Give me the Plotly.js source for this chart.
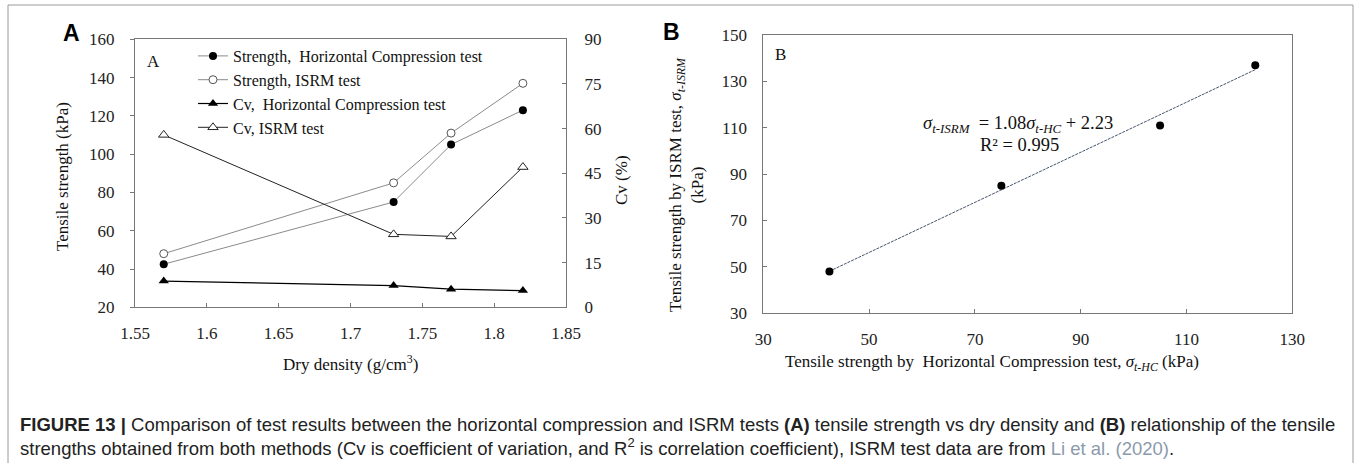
<!DOCTYPE html>
<html>
<head>
<meta charset="utf-8">
<script src="https://cdn.plot.ly/plotly-3.0.1.min.js"></script>
<style>
html,body{margin:0;padding:0;background:#fff;}
#chart{width:1354px;height:463px;}
</style>
</head>
<body>
<div id="chart"></div>
<script>
// ---- data ----
const density = [1.57, 1.73, 1.77, 1.82];
const strengthHC = [42.5, 75, 105, 123];
const strengthISRM = [48, 85, 111, 137];
const cvHC = [8.8, 7.3, 6.1, 5.6];
const cvISRM = [57.9, 24.5, 23.8, 47.1];
const fitSlope = 1.08;
const fitIntercept = 2.23;
const densityTicks = [1.55, 1.6, 1.65, 1.7, 1.75, 1.8, 1.85];
const densityTickLabels = ['1.55', '1.6', '1.65', '1.7', '1.75', '1.8', '1.85'];
const legendNames = [
  'Strength,\u00a0 Horizontal Compression test',
  'Strength, ISRM test',
  'Cv,\u00a0 Horizontal Compression test',
  'Cv, ISRM test'
];

// ---- helpers ----
const W = 1354, H = 463;
const px = x => x / W;
const py = y => 1 - y / H;
const serif = 'Liberation Serif, Times New Roman, serif';
const sans = 'Liberation Sans, Arial, sans-serif';

const fitX = [Math.min(...strengthHC), Math.max(...strengthHC)];
const fitY = fitX.map(v => fitSlope * v + fitIntercept);

const traces = [
  {x: density, y: strengthHC, xaxis: 'x', yaxis: 'y', mode: 'lines+markers', name: legendNames[0],
   line: {color: '#8a8a8a', width: 1}, marker: {symbol: 'circle', size: 8, color: '#000'}},
  {x: density, y: strengthISRM, xaxis: 'x', yaxis: 'y', mode: 'lines+markers', name: legendNames[1],
   line: {color: '#8a8a8a', width: 1}, marker: {symbol: 'circle', size: 8, color: '#fff', line: {color: '#555', width: 1}}},
  {x: density, y: cvHC, xaxis: 'x', yaxis: 'y2', mode: 'lines+markers', name: legendNames[2],
   line: {color: '#000', width: 1.2}, marker: {symbol: 'triangle-up', size: 9, color: '#000'}},
  {x: density, y: cvISRM, xaxis: 'x', yaxis: 'y2', mode: 'lines+markers', name: legendNames[3],
   line: {color: '#222', width: 1}, marker: {symbol: 'triangle-up', size: 9, color: '#fff', line: {color: '#222', width: 1}}},
  {x: fitX, y: fitY, xaxis: 'x2', yaxis: 'y3', mode: 'lines', showlegend: false,
   line: {color: '#44546a', width: 1, dash: '3px,1px'}},
  {x: strengthHC, y: strengthISRM, xaxis: 'x2', yaxis: 'y3', mode: 'markers', showlegend: false,
   marker: {symbol: 'circle', size: 8, color: '#000'}}
];

function axis(extra) {
  return Object.assign({
    showgrid: false, zeroline: false, showline: true, linecolor: '#777', linewidth: 1,
    tickcolor: '#777', ticklen: 4, tickwidth: 1, mirror: true,
    tickfont: {family: serif, size: 17, color: '#222'}
  }, extra);
}

const layout = {
  width: W, height: H,
  margin: {l: 0, r: 0, t: 0, b: 0},
  font: {family: serif, size: 17, color: '#222'},
  paper_bgcolor: '#fff', plot_bgcolor: 'rgba(0,0,0,0)',
  showlegend: true,
  legend: {x: px(193), y: py(39), xanchor: 'left', yanchor: 'top', bgcolor: 'rgba(0,0,0,0)',
    font: {family: serif, size: 16, color: '#111'}, borderwidth: 0, tracegroupgap: 0},
  xaxis: axis({domain: [px(135), px(566)], range: [1.55, 1.85], anchor: 'y',
    tickmode: 'array', tickvals: densityTicks, ticktext: densityTickLabels, ticks: 'inside', ticklabelstandoff: 10}),
  yaxis: axis({domain: [py(307.3), py(39.3)], range: [20, 160], tick0: 20, dtick: 20, anchor: 'x',
    ticks: 'outside', ticklabelstandoff: 12}),
  yaxis2: axis({overlaying: 'y', side: 'right', range: [0, 90], tick0: 0, dtick: 15, anchor: 'x',
    ticks: 'inside', mirror: false, ticklabelstandoff: 14}),
  xaxis2: axis({domain: [px(763.3), px(1292.3)], range: [30, 130], tick0: 30, dtick: 20, anchor: 'y3',
    ticks: 'inside', ticklabelstandoff: 10}),
  yaxis3: axis({domain: [py(313.3), py(35)], range: [30, 150], tick0: 30, dtick: 20, anchor: 'x2',
    ticks: 'inside', ticklabelstandoff: 12}),
  shapes: [
    {type: 'rect', xref: 'paper', yref: 'paper', x0: px(8), x1: px(1353), y0: -0.05, y1: py(5),
     line: {color: '#9a9a9a', width: 1}, fillcolor: 'rgba(0,0,0,0)'}
  ],
  annotations: [
    {text: '<b>A</b>', x: px(71), y: py(33), xref: 'paper', yref: 'paper', showarrow: false,
     xanchor: 'center', yanchor: 'middle', font: {family: sans, size: 23, color: '#000'}},
    {text: '<b>B</b>', x: px(671), y: py(32), xref: 'paper', yref: 'paper', showarrow: false,
     xanchor: 'center', yanchor: 'middle', font: {family: sans, size: 23, color: '#000'}},
    {text: 'A', x: px(153), y: py(61), xref: 'paper', yref: 'paper', showarrow: false,
     xanchor: 'center', yanchor: 'middle', font: {family: serif, size: 17, color: '#111'}},
    {text: 'B', x: px(780), y: py(54), xref: 'paper', yref: 'paper', showarrow: false,
     xanchor: 'center', yanchor: 'middle', font: {family: serif, size: 17, color: '#111'}},
    {text: 'Tensile strength (kPa)', textangle: -90, x: px(62), y: py(176), xref: 'paper', yref: 'paper',
     showarrow: false, xanchor: 'center', yanchor: 'middle', font: {family: serif, size: 17, color: '#111'}},
    {text: 'Cv (%)', textangle: -90, x: px(621), y: py(180), xref: 'paper', yref: 'paper',
     showarrow: false, xanchor: 'center', yanchor: 'middle', font: {family: serif, size: 17, color: '#111'}},
    {text: 'Dry density (g/cm<sup>3</sup>)', x: px(350), y: py(363), xref: 'paper', yref: 'paper',
     showarrow: false, xanchor: 'center', yanchor: 'middle', font: {family: serif, size: 17, color: '#111'}},
    {text: 'Tensile strength by ISRM test, <i>σ</i><sub><i>t-ISRM</i></sub><br>(kPa)', textangle: -90,
     x: px(686), y: py(185), xref: 'paper', yref: 'paper', showarrow: false, xanchor: 'center', yanchor: 'middle',
     font: {family: serif, size: 17, color: '#111'}},
    {text: 'Tensile strength by\u00a0 Horizontal Compression test, <i>σ</i><sub><i>t-HC</i></sub> (kPa)',
     x: px(992), y: py(363), xref: 'paper', yref: 'paper', showarrow: false, xanchor: 'center', yanchor: 'middle',
     font: {family: serif, size: 17, color: '#111'}},
    {text: '<i>σ</i><sub><i>t-ISRM</i></sub>\u00a0 = 1.08<i>σ</i><sub><i>t-HC</i></sub> + 2.23',
     x: px(1018), y: py(124), xref: 'paper', yref: 'paper', showarrow: false, xanchor: 'center', yanchor: 'middle',
     font: {family: serif, size: 18.5, color: '#111'}},
    {text: 'R² = 0.995',
     x: px(1020), y: py(145), xref: 'paper', yref: 'paper', showarrow: false, xanchor: 'center', yanchor: 'middle',
     font: {family: serif, size: 18.5, color: '#111'}},
    {text: '<b>FIGURE 13 |</b> Comparison of test results between the horizontal compression and ISRM tests <b>(A)</b> tensile strength vs dry density and <b>(B)</b> relationship of the tensile<br>strengths obtained from both methods (Cv is coefficient of variation, and R<sup>2</sup> is correlation coefficient), ISRM test data are from <span style="color:#8c9aab">Li et al. (2020)</span>.',
     x: px(18), y: py(412), xref: 'paper', yref: 'paper', showarrow: false, xanchor: 'left', yanchor: 'top',
     align: 'left', font: {family: sans, size: 18.5, color: '#222'}}
  ]
};

Plotly.newPlot('chart', traces, layout, {displayModeBar: false, responsive: false});
</script>
</body>
</html>
